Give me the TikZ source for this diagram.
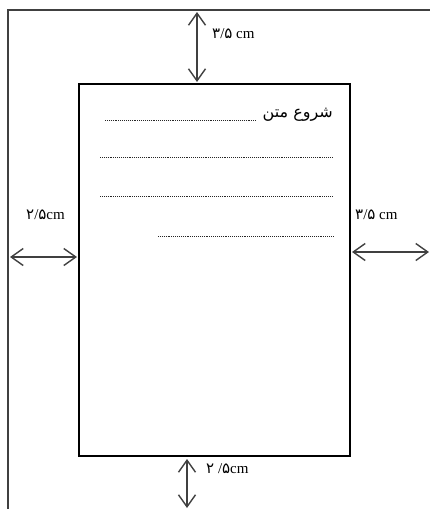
\documentclass[tikz,border=0pt]{standalone}
\usepackage{fontspec}
\setmainfont{Liberation Serif}
\newfontfamily\arabicfont[Script=Arabic]{DejaVu Sans}
\TeXXeTstate=1
\usetikzlibrary{arrows.meta}
\begin{document}
\begin{tikzpicture}[x=1pt,y=-1pt,
  frame/.style={line width=1.4pt,draw=black!75},
  pagebox/.style={draw=black,line width=1.2pt,minimum width=271pt,minimum height=372pt,inner sep=0pt},
  dots/.style={line width=0.9pt,dash pattern=on 1pt off 0.9pt,draw=black!85},
  dimarrow/.style={line width=1.1pt,draw=black!75,{Straight Barb[length=12pt,width=17pt,line width=1.4pt]}-{Straight Barb[length=12pt,width=17pt,line width=1.4pt]}},
  lbl/.style={font=\fontsize{15}{17}\selectfont,inner sep=0pt,anchor=west}]
\useasboundingbox (0,0) rectangle (430,509);
% outer frame
\coordinate (tl) at (8,10);
\coordinate (tr) at (430,10);
\coordinate (bl) at (8,509);
\draw[frame] (bl) -- (tl) -- (tr);
% page
\node[pagebox] (page) at (214.5,270) {};
% text start
\node[anchor=east,inner sep=0pt,font=\fontsize{16}{18}\selectfont] (start) at (333,115) {\arabicfont\beginR شروع متن\endR};
\coordinate (d1a) at (105,120); \coordinate (d1b) at (256,120);
\coordinate (d2a) at (100,157); \coordinate (d2b) at (333,157);
\coordinate (d3a) at (100,196); \coordinate (d3b) at (333,196);
\coordinate (d4a) at (158,236); \coordinate (d4b) at (333,236);
\draw[dots] (d1a) -- (d1b);
\draw[dots] (d2a) -- (d2b);
\draw[dots] (d3a) -- (d3b);
\draw[dots] (d4a) -- (d4b);
% top margin
\coordinate (ta) at (197,12);
\coordinate (tb) at (197,82);
\draw[dimarrow] (ta) -- (tb);
\node[lbl] (toplbl) at (212,34) {{\arabicfont ۳}/{\arabicfont ۵} cm};
% left margin
\coordinate (la) at (10,257);
\coordinate (lb) at (77,257);
\draw[dimarrow] (la) -- (lb);
\node[lbl] (leftlbl) at (26,215) {{\arabicfont ۲}/{\arabicfont ۵}cm};
% right margin
\coordinate (ra) at (352,252);
\coordinate (rb) at (429,252);
\draw[dimarrow] (ra) -- (rb);
\node[lbl] (rightlbl) at (355,215) {{\arabicfont ۳}/{\arabicfont ۵} cm};
% bottom margin
\coordinate (ba) at (187,459);
\coordinate (bb) at (187,508);
\draw[dimarrow] (ba) -- (bb);
\node[lbl] (botlbl) at (206,469) {{\arabicfont ۲} /{\arabicfont ۵}cm};
\end{tikzpicture}
\end{document}
